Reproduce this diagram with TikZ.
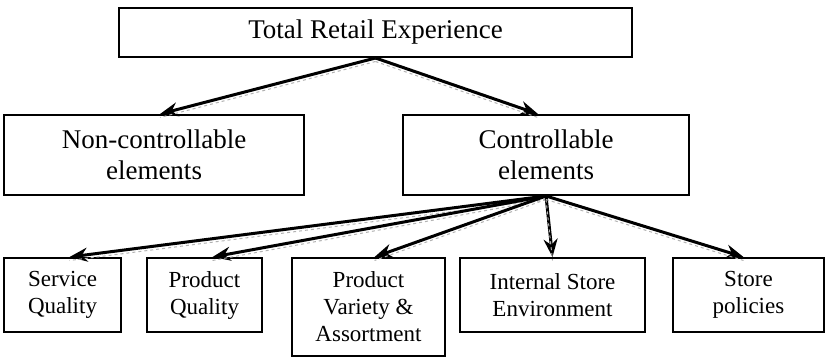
\documentclass[tikz,border=0pt]{standalone}
\usepackage{fontspec}
\setmainfont{Liberation Serif}
\usetikzlibrary{arrows.meta}
\begin{document}
\begin{tikzpicture}[x=1pt,y=-1pt,
  box/.style={draw, line width=2pt, inner sep=0pt, align=center},
  big/.style={font=\fontsize{27}{31}\selectfont},
  small/.style={font=\fontsize{23}{27}\selectfont},
  conn/.style={line width=3pt, -{Stealth[length=18pt,width=14pt]},
    postaction={draw=gray!60, dashed, line width=1pt, -, transform canvas={yshift=-3.5pt}}}]
\useasboundingbox (0,0) rectangle (826,359);
\node[box,big,minimum width=513pt,minimum height=49pt] (top) at (375.5,32.5) {Total Retail Experience};
\node[box,big,minimum width=300pt,minimum height=80pt] (non) at (154,155) {Non-controllable\\elements};
\node[box,big,minimum width=286pt,minimum height=80pt] (ctrl) at (546,155) {Controllable\\elements};
\node[box,small,minimum width=117pt,minimum height=74pt] (sq) at (62.5,295) {Service\\Quality};
\node[box,small,minimum width=115pt,minimum height=74pt] (pq) at (204.5,295) {Product\\Quality};
\node[box,small,minimum width=153pt,minimum height=98pt] (pv) at (368.5,307) {Product\\Variety \&\\Assortment};
\node[box,small,minimum width=185pt,minimum height=74pt] (ise) at (552.5,295) {Internal Store\\Environment};
\node[box,small,minimum width=151pt,minimum height=74pt] (sp) at (748.5,295) {Store\\policies};
\draw[conn] (top.south) -- ([xshift=6pt]non.north);
\draw[conn] (top.south) -- ([xshift=-8pt]ctrl.north);
\draw[conn] (ctrl.south) -- ([xshift=7pt]sq.north);
\draw[conn] (ctrl.south) -- ([xshift=8pt]pq.north);
\draw[conn] (ctrl.south) -- ([xshift=6pt]pv.north);
\draw[conn] (ctrl.south) -- (ise.north);
\draw[conn] (ctrl.south) -- ([xshift=-5pt]sp.north);
\end{tikzpicture}
\end{document}
